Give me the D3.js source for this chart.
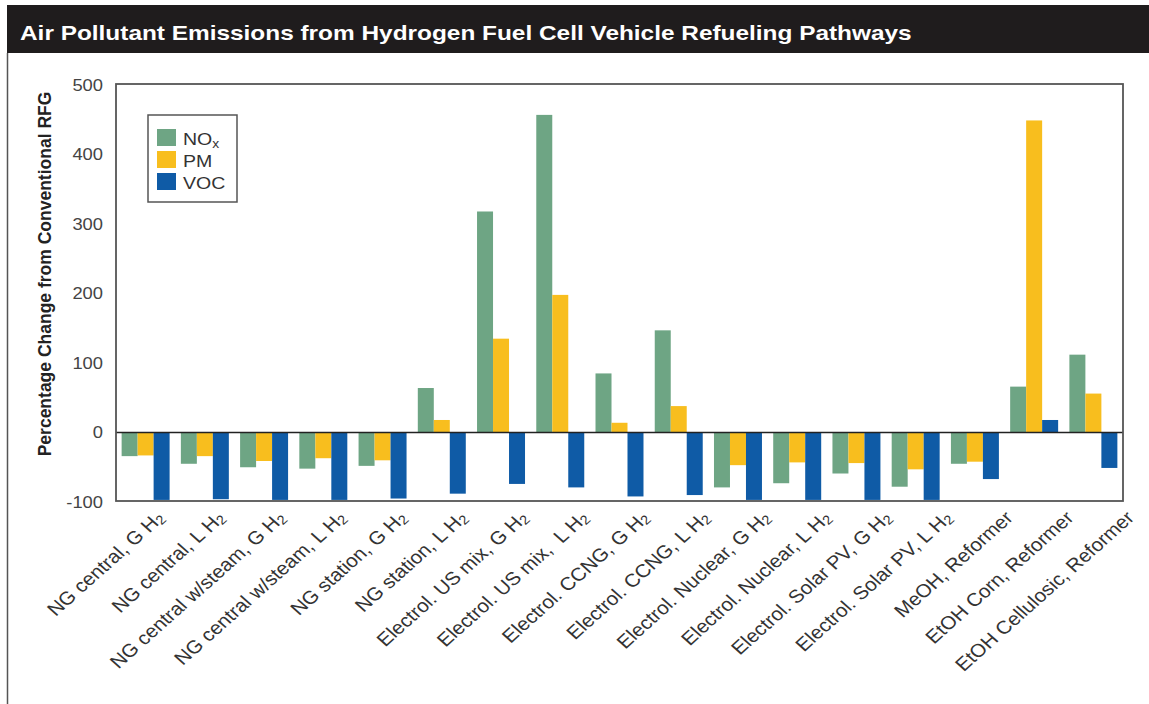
<!DOCTYPE html>
<meta charset="utf-8">
<script src="https://d3js.org/d3.v7.min.js"></script>
<style>
  body { margin: 0; background: #fff; }
  text { font-family: "Liberation Sans", Arial, sans-serif; }
</style>
<div id="chart"></div>
<script>
// categories (x axis), "H2" endings get a subscript 2
var categories = [
  "NG central, G H2", "NG central, L H2", "NG central w/steam, G H2", "NG central w/steam, L H2",
  "NG station, G H2", "NG station, L H2", "Electrol. US mix, G H2", "Electrol. US mix,  L H2",
  "Electrol. CCNG, G H2", "Electrol. CCNG, L H2", "Electrol. Nuclear, G H2", "Electrol. Nuclear, L H2",
  "Electrol. Solar PV, G H2", "Electrol. Solar PV, L H2", "MeOH, Reformer", "EtOH Corn, Reformer",
  "EtOH Cellulosic, Reformer"
];
var series = ["NOx", "PM", "VOC"];
var noxValues = [-34, -45, -50, -52, -48, 64, 318, 457, 85, 147, -79, -73, -59, -78, -45, 66, 112];
var pmValues  = [-33, -34, -41, -37, -40, 18, 135, 198, 14, 38, -47, -43, -44, -53, -42, 449, 56];
var vocValues = [-97, -96, -97, -97, -95, -88, -74, -79, -92, -90, -97, -97, -97, -97, -67, 18, -51];
var yTicks = [-100, 0, 100, 200, 300, 400, 500];

var colors = { NOx: "#6ea584", PM: "#f8be1e", VOC: "#0f5ba6" };

var W = 1149, H = 704;
var svg = d3.select("#chart").append("svg").attr("width", W).attr("height", H);

// title bar (the source picture is a bit wider than normal Arial, hence the x stretch)
svg.append("rect").attr("x", 7).attr("y", 5).attr("width", W - 7).attr("height", 48).attr("fill", "#1f1c1d");
svg.append("text").attr("transform", "translate(20,40) scale(1.22,1)")
  .text("Air Pollutant Emissions from Hydrogen Fuel Cell Vehicle Refueling Pathways")
  .attr("fill", "#fff").attr("font-size", "20px").attr("font-weight", "bold");
svg.append("line").attr("x1", 7.5).attr("x2", 7.5).attr("y1", 53).attr("y2", H).attr("stroke", "#555").attr("stroke-width", 1.5);

var rows = categories.map(function(c, i) { return { cat: c, NOx: noxValues[i], PM: pmValues[i], VOC: vocValues[i] }; });

var left = 116, right = 1123;
var x0 = d3.scaleBand().domain(categories).range([left, right]).paddingInner(0.19).paddingOuter(0.095);
var x1 = d3.scaleBand().domain(series).range([0, x0.bandwidth()]);
var y = d3.scaleLinear().domain([-100, 500]).range([502, 85]);

// bars
var groups = svg.append("g").selectAll("g").data(rows).enter().append("g")
  .attr("transform", function(d) { return "translate(" + x0(d.cat) + ",0)"; });
groups.selectAll("rect").data(function(d) { return series.map(function(s) { return { key: s, value: d[s] }; }); })
  .enter().append("rect")
    .attr("x", function(d) { return x1(d.key); })
    .attr("y", function(d) { return y(Math.max(0, d.value)); })
    .attr("width", x1.bandwidth())
    .attr("height", function(d) { return Math.abs(y(d.value) - y(0)); })
    .attr("fill", function(d) { return colors[d.key]; });

// zero line
svg.append("line").attr("x1", left).attr("x2", right).attr("y1", y(0)).attr("y2", y(0))
  .attr("stroke", "#222").attr("stroke-width", 1.5);

// frame
svg.append("rect").attr("x", left).attr("y", y(500) - 1).attr("width", right - left).attr("height", y(-100) - y(500))
  .attr("fill", "none").attr("stroke", "#555").attr("stroke-width", 1.8);

// y axis labels
var yAxis = d3.axisLeft(y).tickValues(yTicks).tickSize(0).tickPadding(13).tickFormat(function(d) { return String(d); });
var gy = svg.append("g").attr("transform", "translate(" + left + ",0)").call(yAxis);
gy.select(".domain").remove();
gy.selectAll("text").attr("font-size", "17px").attr("fill", "#444").attr("font-family", "Liberation Sans, Arial, sans-serif")
  .attr("transform", "scale(1.08,1)").attr("x", -12);

svg.append("text").attr("transform", "translate(51,274) rotate(-90)").attr("text-anchor", "middle")
  .attr("font-size", "17.5px").attr("font-weight", "bold").attr("fill", "#222")
  .text("Percentage Change from Conventional RFG");

// x labels, placed a little wider apart than the bar groups as in the source
var c0 = x0(categories[0]) + x0.bandwidth() / 2, cN = x0(categories[categories.length - 1]) + x0.bandwidth() / 2;
var xLab = d3.scalePoint().domain(categories).range([c0 + 20, cN + 42]);
var xl = svg.append("g").selectAll("text").data(categories).enter().append("text")
  .attr("transform", function(d) { return "translate(" + xLab(d) + ",519) scale(1.12,1) rotate(-45)"; })
  .attr("text-anchor", "end").attr("font-size", "18.5px").attr("fill", "#333");
xl.each(function(d) {
  var t = d3.select(this);
  if (/H2$/.test(d)) {
    t.append("tspan").attr("xml:space", "preserve").text(d.slice(0, -1));
    t.append("tspan").attr("font-size", "13px").attr("dy", 2).text("2");
  } else {
    t.text(d);
  }
});

// legend
var lg = svg.append("g").attr("transform", "translate(148,115)");
lg.append("rect").attr("width", 89).attr("height", 87).attr("fill", "#fff").attr("stroke", "#555").attr("stroke-width", 1.5);
series.forEach(function(s, i) {
  lg.append("rect").attr("x", 9).attr("y", 14 + i * 22).attr("width", 19).attr("height", 17).attr("fill", colors[s]);
  var t = lg.append("text").attr("transform", "translate(35," + (30 + i * 22) + ") scale(1.15,1)")
    .attr("font-size", "17px").attr("fill", "#333");
  if (s === "NOx") {
    t.append("tspan").text("NO");
    t.append("tspan").attr("font-size", "12px").attr("dy", 3).text("x");
  } else {
    t.text(s);
  }
});
</script>
